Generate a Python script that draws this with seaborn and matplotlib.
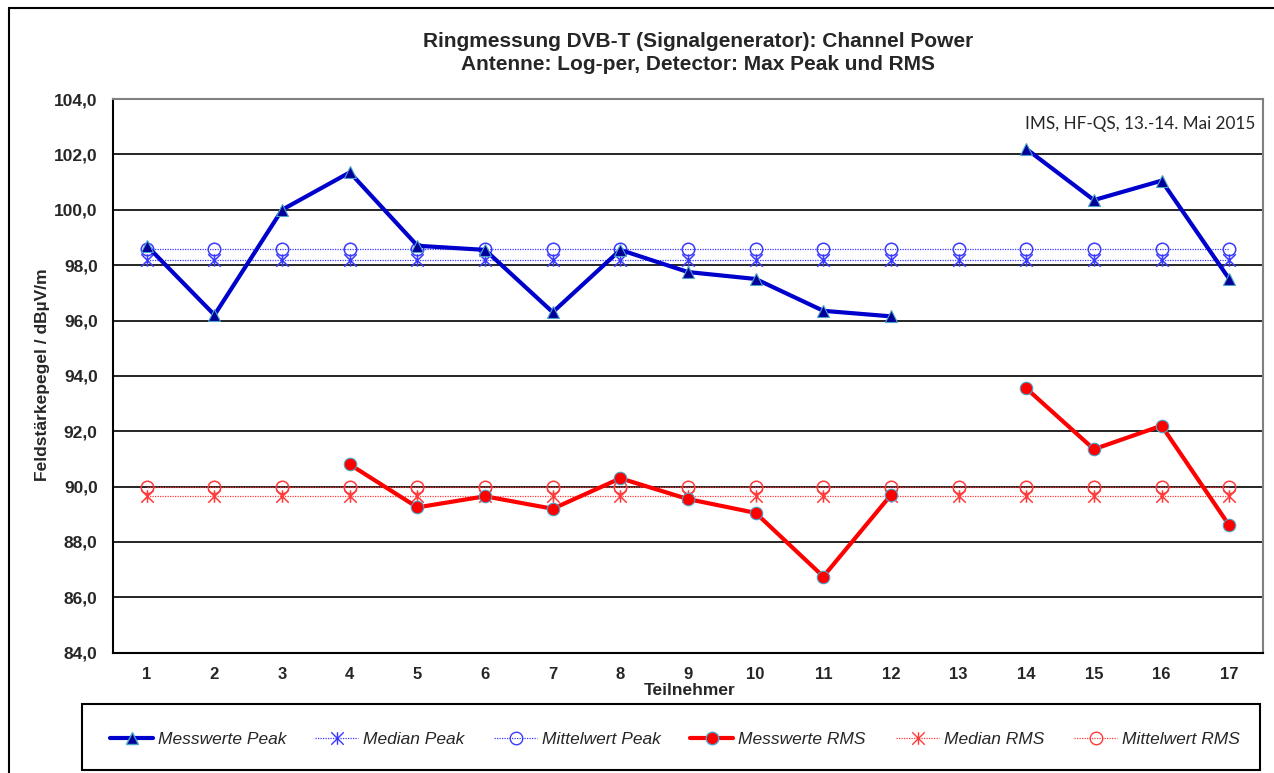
import numpy as np
import pandas as pd
import matplotlib.pyplot as plt
import seaborn as sns
from matplotlib.lines import Line2D
from matplotlib.patches import Rectangle
from matplotlib.path import Path
from matplotlib.ticker import FuncFormatter, MultipleLocator

# Werte aus der Ringmessung
teilnehmer = list(range(1, 18))
peak = [98.7, 96.2, 100.0, 101.35, 98.7, 98.55, 96.3, 98.55, 97.75, 97.5,
        96.35, 96.15, np.nan, 102.2, 100.35, 101.05, 97.5]
rms = [np.nan, np.nan, np.nan, 90.8, 89.25, 89.65, 89.2, 90.3, 89.55, 89.05,
       86.75, 89.7, np.nan, 93.55, 91.35, 92.2, 88.6]
median_peak = 98.2
mittel_peak = 98.57
median_rms = 89.65
mittel_rms = 89.98

namen = ['Messwerte Peak', 'Median Peak', 'Mittelwert Peak',
         'Messwerte RMS', 'Median RMS', 'Mittelwert RMS']
# linker Rand der Legendeneinträge (Pixel)
legende_x = [110, 315, 494, 690, 896, 1074]

BLAU = '#0000cc'
BLAU_HELL = '#3a3aff'
ROT = '#ff0000'
ROT_HELL = '#ff3a3a'
RAND = '#4aa3c8'

# Excel-Stern: X mit senkrechtem Strich
STERN = Path([(-1, -1), (1, 1), (-1, 1), (1, -1), (0, -1), (0, 1)],
             [Path.MOVETO, Path.LINETO] * 3)

sns.set_style('white')
plt.rcParams['font.family'] = ['Liberation Sans', 'DejaVu Sans']


def load_data():
    df = pd.DataFrame({'teilnehmer': teilnehmer, 'peak': peak, 'rms': rms})
    # Lücken trennen die Linien
    df['seg_peak'] = df['peak'].isna().cumsum()
    df['seg_rms'] = df['rms'].isna().cumsum()
    return df


def plot_data(df):
    W, H = 1274, 773
    fig = plt.figure(figsize=(W / 100, H / 100), dpi=100)
    ax = fig.add_axes([0.0887, 0.1556, 0.9027, 0.7163])

    n = len(teilnehmer)
    konst = [
        (median_peak, BLAU_HELL, STERN),
        (mittel_peak, BLAU_HELL, 'o'),
        (median_rms, ROT_HELL, STERN),
        (mittel_rms, ROT_HELL, 'o'),
    ]
    for wert, farbe, mk in konst:
        sns.lineplot(x=teilnehmer, y=[wert] * n, color=farbe, lw=0.9,
                     linestyle=(0, (1, 1)), marker=mk, markersize=9,
                     markerfacecolor='none', markeredgecolor=farbe,
                     markeredgewidth=1.1, ax=ax, legend=False)

    sns.lineplot(data=df.dropna(subset=['peak']), x='teilnehmer', y='peak',
                 units='seg_peak', estimator=None, color=BLAU, lw=3,
                 marker='^', markersize=9, markerfacecolor='#000099',
                 markeredgecolor=RAND, markeredgewidth=0.8, ax=ax, legend=False)
    sns.lineplot(data=df.dropna(subset=['rms']), x='teilnehmer', y='rms',
                 units='seg_rms', estimator=None, color=ROT, lw=3,
                 marker='o', markersize=9, markerfacecolor=ROT,
                 markeredgecolor=RAND, markeredgewidth=0.8, ax=ax, legend=False)

    ax.set_xlim(0.5, 17.5)
    ax.set_ylim(84, 104)
    ax.set_xticks(teilnehmer)
    ax.set_xticks(np.arange(0.5, 18, 1), minor=True)
    ax.yaxis.set_major_locator(MultipleLocator(2))
    ax.yaxis.set_major_formatter(FuncFormatter(lambda v, p: f'{v:.1f}'.replace('.', ',')))
    ax.tick_params(axis='x', which='major', length=0, pad=10)
    ax.tick_params(axis='x', which='minor', length=5, width=1.5, color='black')
    ax.tick_params(axis='y', length=5, width=1.5, color='black', pad=6)
    for lab in ax.get_xticklabels():
        lab.set_fontweight('bold')
        lab.set_fontsize(12)
    for lab in ax.get_yticklabels():
        lab.set_fontweight('bold')
        lab.set_fontsize(12.5)
    ax.set_xlabel('')
    ax.set_ylabel('')
    ax.grid(axis='y', color='black', lw=1.2)
    ax.set_axisbelow(True)
    for side in ['left', 'bottom']:
        ax.spines[side].set_color('black')
        ax.spines[side].set_linewidth(1.5)
    for side in ['top', 'right']:
        ax.spines[side].set_color('#808080')
        ax.spines[side].set_linewidth(1.5)

    fig.text(0.548, 0.946, 'Ringmessung DVB-T (Signalgenerator): Channel Power',
             ha='center', va='center', fontsize=15, fontweight='bold')
    fig.text(0.548, 0.916, 'Antenne: Log-per, Detector: Max Peak und RMS',
             ha='center', va='center', fontsize=15, fontweight='bold')
    fig.text(0.033, 0.515, 'Feldstärkepegel / dBµV/m', rotation=90,
             ha='center', va='center', fontsize=12.5, fontweight='bold')
    fig.text(0.5416, 0.107, 'Teilnehmer', ha='center', va='center',
             fontsize=12.5, fontweight='bold')
    fig.text(0.985, 0.8396, 'IMS, HF-QS, 13.-14. Mai 2015', ha='right',
             va='center', fontsize=12.3, family=['Lato', 'DejaVu Sans'])

    handles = [
        Line2D([], [], color=BLAU, lw=3, marker='^', markersize=9,
               markerfacecolor='#000099', markeredgecolor=RAND),
        Line2D([], [], color=BLAU_HELL, lw=0.9, linestyle=(0, (1, 1)),
               marker=STERN, markersize=9, markerfacecolor='none',
               markeredgecolor=BLAU_HELL),
        Line2D([], [], color=BLAU_HELL, lw=0.9, linestyle=(0, (1, 1)),
               marker='o', markersize=9, markerfacecolor='none',
               markeredgecolor=BLAU_HELL),
        Line2D([], [], color=ROT, lw=3, marker='o', markersize=9,
               markerfacecolor=ROT, markeredgecolor=RAND),
        Line2D([], [], color=ROT_HELL, lw=0.9, linestyle=(0, (1, 1)),
               marker=STERN, markersize=9, markerfacecolor='none',
               markeredgecolor=ROT_HELL),
        Line2D([], [], color=ROT_HELL, lw=0.9, linestyle=(0, (1, 1)),
               marker='o', markersize=9, markerfacecolor='none',
               markeredgecolor=ROT_HELL),
    ]
    # jeder Eintrag als eigene Legende, damit die Abstände stimmen
    for h, name, x in zip(handles, namen, legende_x):
        fig.legend([h], [name], loc='center left',
                   bbox_to_anchor=(x / W, 1 - 739 / H),
                   prop={'style': 'italic', 'size': 12.5},
                   handlelength=2.5, handletextpad=0.25, borderpad=0,
                   borderaxespad=0, frameon=False)

    # Rahmen der Legende
    fig.patches.append(Rectangle((82 / W, 1 - 770 / H), (1260 - 82) / W, 66 / H,
                                 transform=fig.transFigure, fill=False,
                                 edgecolor='black', lw=1.5))
    # Rahmen um das ganze Diagramm
    fig.patches.append(Rectangle((0.007, -0.01), 1.0, 0.9997, transform=fig.transFigure,
                                 fill=False, edgecolor='black', lw=1.5))

    fig.savefig('out.png', dpi=100)


def main():
    df = load_data()
    plot_data(df)


if __name__ == "__main__":
    main()
